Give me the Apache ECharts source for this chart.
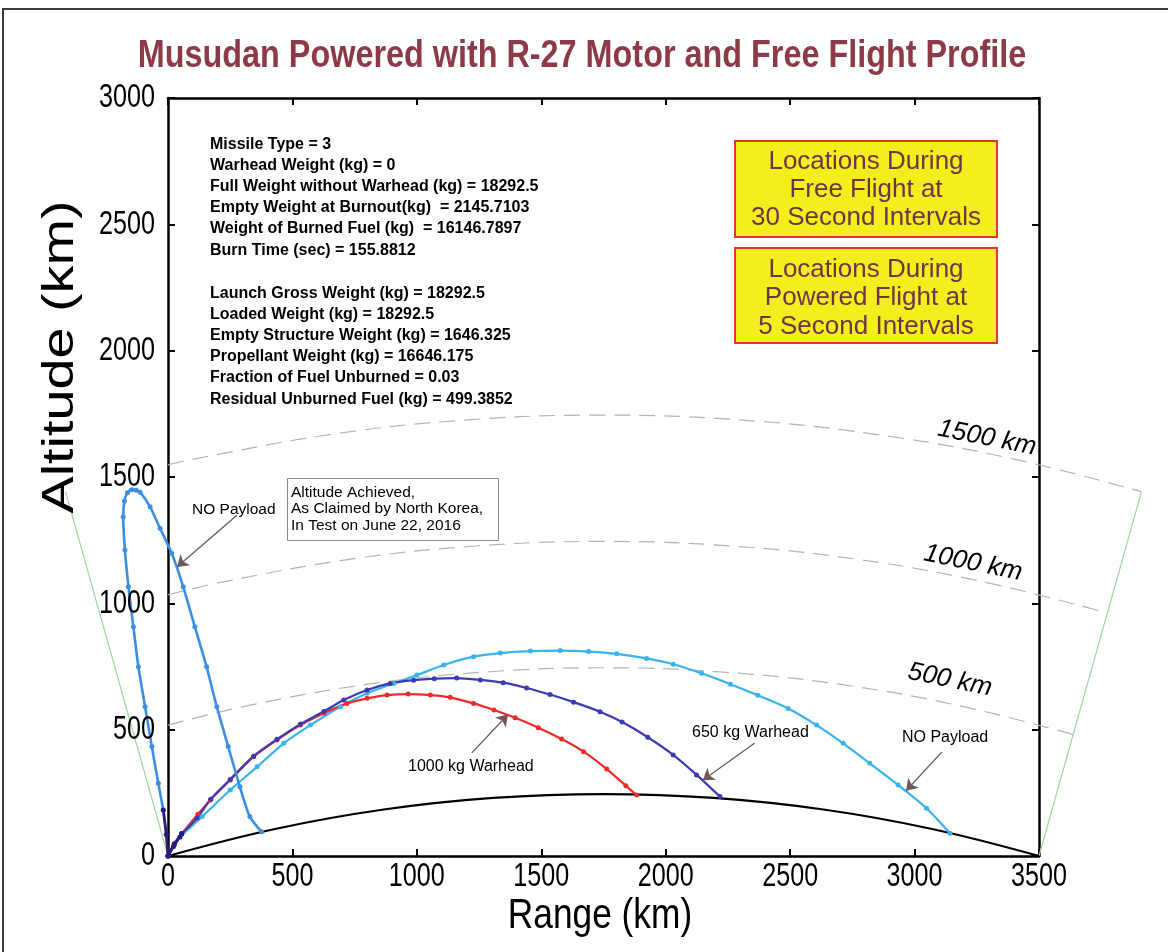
<!DOCTYPE html>
<html><head><meta charset="utf-8">
<script src="https://cdn.jsdelivr.net/npm/echarts@6/dist/echarts.min.js"></script>
<style>html,body{margin:0;padding:0;background:#fff}#c{width:1168px;height:952px}</style>
</head><body><div id="c"></div>
<script>
// ---------- data (km) ----------
const titleText = 'Musudan Powered with R-27 Motor and Free Flight Profile';
const xTicks = [0, 500, 1000, 1500, 2000, 2500, 3000, 3500];
const yTicks = [0, 500, 1000, 1500, 2000, 2500, 3000];

const earthSurface = [[0,0],[430,107],[867,184],[1307,230],[1750,245],[2193,230],[2634,184],[3070,107],[3500,0]];
const contour500  = [[0,518],[326,596],[797,679],[1272,728],[1750,745],[2228,728],[2703,679],[3174,596],[3637,481]];
const contour1000 = [[0,1034],[223,1085],[728,1174],[1238,1227],[1750,1245],[2262,1227],[2772,1174],[3277,1085],[3775,962]];
const contour1500 = [[0,1548],[119,1574],[658,1669],[1203,1726],[1750,1745],[2297,1726],[2842,1669],[3385,1574],[3912,1442]];
const radialLeft  = [[0,0],[-412,1442]];
const radialRight = [[3500,0],[3912,1442]];

const loftedPowered = [[0,0],[-7,85],[-19,182]];
const loftedFree = [[-19,182],[-39,288],[-65,433],[-92,591],[-119,749],[-139,907],[-159,1066],[-173,1211],[-180,1343],[-175,1405],[-163,1438],[-146,1450],[-128,1448],[-112,1440],[-72,1382],[-32,1297],[15,1198],[61,1066],[108,907],[155,749],[196,591],[242,433],[289,274],[329,156],[376,96]];

const noPayloadPowered = [[0,0],[22,38],[48,75]];
const noPayloadFree = [[48,75],[137,156],[250,261],[358,353],[465,446],[572,518],[692,591],[800,644],[907,683],[1000,716],[1108,756],[1228,789],[1335,803],[1456,811],[1576,813],[1690,809],[1803,800],[1923,782],[2030,759],[2144,723],[2260,680],[2370,636],[2492,584],[2606,518],[2713,446],[2820,367],[2934,281],[3048,189],[3142,90]];

const w650Powered = [[0,0],[25,45],[55,88]];
const w650Free = [[55,88],[117,150],[172,225],[250,303],[344,395],[438,462],[532,522],[626,572],[706,617],[800,657],[893,683],[987,696],[1070,702],[1160,704],[1255,697],[1347,686],[1441,665],[1535,639],[1630,609],[1736,571],[1825,530],[1928,470],[2030,400],[2124,321],[2218,235]];

const w1000Powered = [[0,0],[25,48],[55,88]];
const w1000Free = [[55,88],[120,165],[170,222],[250,301],[344,393],[438,459],[532,518],[626,565],[719,604],[800,624],[880,637],[965,641],[1054,637],[1134,628],[1228,604],[1310,578],[1395,547],[1488,508],[1582,463],[1670,413],[1763,344],[1840,278],[1883,241]];

const arrowLines = [
  [[277,1349],[36,1144]],
  [[1221,408],[1366,560]],
  [[2358,447],[2149,300]],
  [[3110,412],[2966,258]]
];

const infoBlock1 = ['Missile Type = 3','Warhead Weight (kg) = 0','Full Weight without Warhead (kg) = 18292.5','Empty Weight at Burnout(kg)  = 2145.7103','Weight of Burned Fuel (kg)  = 16146.7897','Burn Time (sec) = 155.8812'];
const infoBlock2 = ['Launch Gross Weight (kg) = 18292.5','Loaded Weight (kg) = 18292.5','Empty Structure Weight (kg) = 1646.325','Propellant Weight (kg) = 16646.175','Fraction of Fuel Unburned = 0.03','Residual Unburned Fuel (kg) = 499.3852'];
const boxText1 = ['Locations During','Free Flight at','30 Second Intervals'];
const boxText2 = ['Locations During','Powered Flight at','5 Second Intervals'];
const claimText = ['Altitude Achieved,','As Claimed by North Korea,','In Test on June 22, 2016'];

// ---------- chart ----------
const SANS = "'Liberation Sans',Arial,sans-serif";
const chart = echarts.init(document.getElementById('c'), null, {renderer:'canvas'});

// Visible frame axes (grid 0)
const GRID = {left:168, right:129, top:98, bottom:96};
const plotW = 1168 - GRID.left - GRID.right;
const pxPerKm = plotW / (xTicks[xTicks.length-1] - xTicks[0]);
// wider drawing grid (grid 1) with identical scale so curves may run past the frame
const drawMin = -600, drawMax = 4000;
const GRID2 = {left: GRID.left + drawMin * pxPerKm, right: 1168 - (GRID.left + drawMax * pxPerKm), top:GRID.top, bottom:GRID.bottom};

function frameAxis(pos, ticks, gridIndex) {
  return {
    type:'value', gridIndex:gridIndex, position:pos,
    min: ticks[0], max: ticks[ticks.length-1], interval: ticks[1]-ticks[0],
    axisLine:{show:true, onZero:false, lineStyle:{color:'#000', width:2.5}},
    axisTick:{show:true, inside:true, length:7, lineStyle:{color:'#000', width:2}},
    axisLabel:{show:false},
    splitLine:{show:false}
  };
}
const xAxes = [
  frameAxis('bottom', xTicks, 0),
  frameAxis('top', xTicks, 0),
  {type:'value', gridIndex:1, min:drawMin, max:drawMax, show:false, splitLine:{show:false}}
];
const yAxes = [
  frameAxis('left', yTicks, 0),
  frameAxis('right', yTicks, 0),
  {type:'value', gridIndex:1, min:yTicks[0], max:yTicks[yTicks.length-1], show:false, splitLine:{show:false}}
];

function plain(data, color, width, extra) {
  return Object.assign({
    type:'line', xAxisIndex:2, yAxisIndex:2, data:data, showSymbol:false, symbol:'none', silent:true, clip:false,
    lineStyle:{color:color, width:width}, z:2
  }, extra || {});
}
function traj(data, color, width) {
  return {
    type:'line', xAxisIndex:2, yAxisIndex:2, data:data, smooth:0.25, symbol:'circle', symbolSize:5, showSymbol:true, clip:false, silent:true,
    lineStyle:{color:color, width:width}, itemStyle:{color:color}, z:4
  };
}

const DASH = {color:'#b4b4b4', width:1.2, type:[16,9]};
const POW = '#2c1a7c';

const series = [
  plain(contour500, '#b4b4b4', 1.2, {smooth:0.4, lineStyle:DASH}),
  plain(contour1000, '#b4b4b4', 1.2, {smooth:0.4, lineStyle:DASH}),
  plain(contour1500, '#b4b4b4', 1.2, {smooth:0.4, lineStyle:DASH}),
  plain(radialLeft, '#9fd89a', 1.2),
  plain(radialRight, '#9fd89a', 1.2),
  plain(earthSurface, '#000', 2.2, {smooth:0.4, z:3}),
  traj(noPayloadFree, '#36b4ec', 2.2),
  traj(w1000Free, '#f02a2a', 2.2),
  traj(w650Free, '#3a3ab2', 2.2),
  traj(loftedFree, '#3c8fe0', 2.6),
  traj(noPayloadPowered, POW, 2.6),
  traj(w1000Powered, POW, 2.6),
  traj(w650Powered, POW, 2.6),
  traj(loftedPowered, POW, 2.8),
  {
    type:'lines', coordinateSystem:'cartesian2d', xAxisIndex:2, yAxisIndex:2, silent:true, z:6,
    symbol:['none','arrow'], symbolSize:[1,11],
    lineStyle:{color:'#6e5858', width:1.3, opacity:1},
    data: arrowLines.map(c => ({coords:c}))
  }
];

function txt(x, y, text, style, extra) {
  return Object.assign({type:'text', x:x, y:y, z:100, silent:true,
    style:Object.assign({text:text, fill:'#000'}, style)}, extra || {});
}

const graphic = [
  {type:'rect', z:0, silent:true, shape:{x:3, y:9, width:1300, height:1100}, style:{fill:'none', stroke:'#3a3a3a', lineWidth:2}},
  txt(582, 56, titleText, {fontSize:39, fontWeight:'bold', fontFamily:SANS, fill:'#8c3b46', align:'center', verticalAlign:'middle'}, {scaleX:0.83}),
  txt(600, 916, 'Range (km)', {fontSize:42, fontFamily:SANS, align:'center', verticalAlign:'middle'}, {scaleX:0.84}),
  txt(61, 357, 'Altitude (km)', {fontSize:45, fontFamily:SANS, align:'center', verticalAlign:'middle'}, {scaleX:1.24, rotation:Math.PI/2}),
  txt(210, 133.5, infoBlock1.join('\n'), {fontSize:16, fontWeight:'bold', fontFamily:SANS, lineHeight:21.2, align:'left', verticalAlign:'top'}),
  txt(210, 282.5, infoBlock2.join('\n'), {fontSize:16, fontWeight:'bold', fontFamily:SANS, lineHeight:21.2, align:'left', verticalAlign:'top'}),
  {type:'rect', z:90, silent:true, shape:{x:735, y:141, width:262, height:96}, style:{fill:'#f4ef1c', stroke:'#e8322c', lineWidth:2}},
  {type:'rect', z:90, silent:true, shape:{x:735, y:248, width:262, height:95}, style:{fill:'#f4ef1c', stroke:'#e8322c', lineWidth:2}},
  txt(866, 190, boxText1.join('\n'), {fontSize:26, fontFamily:SANS, lineHeight:28, fill:'#6d3444', align:'center', verticalAlign:'middle'}),
  txt(866, 298, boxText2.join('\n'), {fontSize:26, fontFamily:SANS, lineHeight:28.5, fill:'#6d3444', align:'center', verticalAlign:'middle'}),
  {type:'rect', z:90, silent:true, shape:{x:287.5, y:478.5, width:211, height:62}, style:{fill:'#fff', stroke:'#8a8a8a', lineWidth:1}},
  txt(291, 509, claimText.join('\n'), {fontSize:15.5, fontFamily:SANS, lineHeight:16.6, align:'left', verticalAlign:'middle'}),
  txt(192, 510, 'NO Payload', {fontSize:15.5, fontFamily:SANS, align:'left', verticalAlign:'middle'}),
  txt(408, 767, '1000 kg Warhead', {fontSize:16, fontFamily:SANS, align:'left', verticalAlign:'middle'}),
  txt(692, 733, '650 kg Warhead', {fontSize:16, fontFamily:SANS, align:'left', verticalAlign:'middle'}),
  txt(902, 738, 'NO Payload', {fontSize:16, fontFamily:SANS, align:'left', verticalAlign:'middle'}),
  txt(987, 438, '1500 km', {fontSize:26, fontStyle:'italic', fontFamily:SANS, align:'center', verticalAlign:'middle'}, {rotation:-11.3*Math.PI/180}),
  txt(973, 563, '1000 km', {fontSize:26, fontStyle:'italic', fontFamily:SANS, align:'center', verticalAlign:'middle'}, {rotation:-11.6*Math.PI/180}),
  txt(950, 680, '500 km', {fontSize:26, fontStyle:'italic', fontFamily:SANS, align:'center', verticalAlign:'middle'}, {rotation:-11.7*Math.PI/180})
];

chart.setOption({
  animation:false,
  backgroundColor:'#fff',
  grid:[Object.assign({containLabel:false}, GRID), Object.assign({containLabel:false}, GRID2)],
  xAxis:xAxes,
  yAxis:yAxes,
  series:series,
  graphic:graphic
});

// tick labels placed through the frame axes' own scales (narrow lettering as in the original)
const TICK = {fontSize:34, fontFamily:SANS, align:'center', verticalAlign:'middle'};
const tickGraphics = [];
xTicks.forEach(v => {
  const px = chart.convertToPixel({xAxisIndex:0}, v);
  tickGraphics.push(txt(px, 877, String(v), TICK, {scaleX:0.74}));
});
yTicks.forEach(v => {
  const py = chart.convertToPixel({yAxisIndex:0}, v);
  tickGraphics.push(txt(155, py, String(v), Object.assign({}, TICK, {align:'right'}), {scaleX:0.74}));
});
chart.setOption({graphic: graphic.concat(tickGraphics)});
</script></body></html>
